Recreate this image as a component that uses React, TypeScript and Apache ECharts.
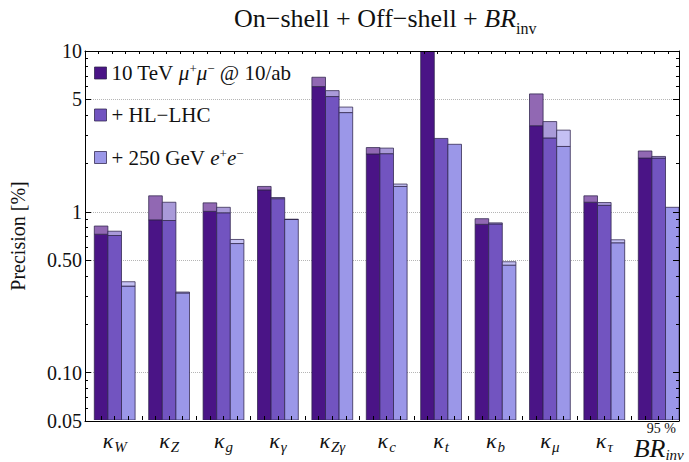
import React, { useEffect, useRef } from 'react';
import * as echarts from 'echarts';

// ---------- data ----------
const categories = ['κW', 'κZ', 'κg', 'κγ', 'κZγ', 'κc', 'κt', 'κb', 'κμ', 'κτ', 'BRinv'];
const kappaSubs = ['W', 'Z', 'g', 'γ', 'Zγ', 'c', 't', 'b', 'μ', 'τ', 'inv'];
const seriesNames = ['mu10', 'hllhc', 'ee250'];
// full height (lighter cap top) and base height (solid part) of each bar
const mu10Full = [0.81, 1.25, 1.13, 1.43, 6.86, 2.5, 12, 0.9, 5.4, 1.25, 2.38];
const mu10Base = [0.72, 0.885, 1.0, 1.36, 6.0, 2.28, 12, 0.83, 3.42, 1.14, 2.15];
const hlFull = [0.752, 1.14, 1.06, 1.22, 5.66, 2.48, 2.85, 0.848, 3.63, 1.135, 2.2];
const hlBase = [0.707, 0.877, 0.98, 1.2, 5.2, 2.29, 2.85, 0.835, 2.87, 1.09, 2.15];
const eeFull = [0.364, 0.314, 0.668, 0.893, 4.47, 1.48, 2.62, 0.485, 3.21, 0.665, 1.06];
const eeBase = [0.342, 0.31, 0.63, 0.89, 4.13, 1.43, 2.62, 0.462, 2.54, 0.637, 1.06];
const yTickValues = [0.05, 0.1, 0.5, 1, 5, 10];
const yTickLabels = ['0.05', '0.10', '0.50', '1', '5', '10'];
const yMinorValues = [0.06, 0.07, 0.08, 0.09, 0.2, 0.3, 0.4, 0.6, 0.7, 0.8, 0.9, 2, 3, 4, 6, 7, 8, 9];
const gridValues = [0.1, 0.5, 1, 5];

// ---------- style ----------
const FONT = 'Liberation Serif';
const mainColors = ['#4a1486', '#7254c0', '#9b97e8'];
const capColors = ['#9168b3', '#a99ad9', '#c4c0f3'];
const EDGE = 'rgba(45,35,75,0.75)';
const SLOTS_FRAME = 43.82; // frame width in bar-slot units
const SLOTS_BANDS = 44;    // category bands in bar-slot units
const bottomTickValues = Array.from({ length: 43 }, (_, i) => i + 1);

const fullArr = [mu10Full, hlFull, eeFull];
const baseArr = [mu10Base, hlBase, eeBase];

const legendText: Record<string, string> = {
  mu10: '{t|10 TeV }{i|μ}{sup|+}{i|μ}{sup|−}{t| @ 10/ab}',
  hllhc: '{t|+ HL−LHC}',
  ee250: '{t|+ 250 GeV }{i|e}{sup|+}{i|e}{sup|−}',
};

const makeRender = (k: number) => (params: any, api: any) => {
  const i = api.value(0);
  const base = api.value(1);
  const full = api.value(2);
  const band = api.size([1, 0])[0];
  const w = band / 4;
  const bottom = api.coord([i, 0.05]);
  const x = bottom[0] - band * 0.375 + k * w;
  const yb = api.coord([i, base])[1];
  const yf = api.coord([i, full])[1];
  const children: any[] = [
    {
      type: 'rect',
      shape: { x, y: yb, width: w, height: bottom[1] - yb },
      style: { fill: mainColors[k], stroke: EDGE, lineWidth: 1 },
    },
  ];
  if (full > base) {
    children.push({
      type: 'rect',
      shape: { x, y: yf, width: w, height: yb - yf },
      style: { fill: capColors[k], stroke: EDGE, lineWidth: 1 },
    });
  }
  return { type: 'group', children };
};

const logAxisBase = { type: 'log', logBase: 10, min: 0.05, max: 10 };

export default function App() {
  const ref = useRef<HTMLDivElement>(null);
  useEffect(() => {
    if (!ref.current) return;
    const chart = echarts.init(ref.current, undefined, { renderer: 'svg' });
    const option: any = {
      animation: false,
      backgroundColor: '#ffffff',
      textStyle: { fontFamily: FONT },
      title: {
        text: '{a|On−shell + Off−shell + }{b|BR}{c|inv}',
        left: 229,
        top: 0,
        textStyle: {
          fontWeight: 'normal',
          rich: {
            a: { fontFamily: FONT, fontWeight: 'normal', fontSize: 26, lineHeight: 28, verticalAlign: 'top', color: '#111' },
            b: { fontFamily: FONT, fontWeight: 'normal', fontStyle: 'italic', fontSize: 26, lineHeight: 28, verticalAlign: 'top', color: '#111' },
            c: { fontFamily: FONT, fontWeight: 'normal', fontSize: 16, lineHeight: 16, padding: [15, 0, 0, 0], verticalAlign: 'top', color: '#111' },
          },
        },
      },
      legend: {
        data: seriesNames,
        orient: 'vertical',
        left: 94,
        top: 62,
        padding: 0,
        itemGap: 21,
        icon: 'rect',
        itemWidth: 12,
        itemHeight: 12,
        itemStyle: { borderColor: EDGE, borderWidth: 1 },
        formatter: (name: string) => legendText[name],
        textStyle: {
          fontFamily: FONT,
          fontSize: 21,
          color: '#111',
          rich: {
            t: { fontFamily: FONT, fontSize: 21, lineHeight: 22, verticalAlign: 'middle', color: '#111' },
            i: { fontFamily: FONT, fontStyle: 'italic', fontSize: 21, lineHeight: 22, verticalAlign: 'middle', color: '#111' },
            sup: { fontFamily: FONT, fontSize: 13, lineHeight: 12, verticalAlign: 'top', color: '#111' },
          },
        },
      },
      grid: [
        { left: 83, right: 10, top: 51, bottom: 41, containLabel: false },
        { left: 87.5, right: 3.1, top: 51, bottom: 41, containLabel: false },
      ],
      xAxis: [
        {
          gridIndex: 0, type: 'value', position: 'top', min: 0, max: SLOTS_FRAME, interval: 1,
          axisLine: { show: true, lineStyle: { color: '#000', width: 1 } },
          axisTick: { show: true, inside: true, length: 3, lineStyle: { color: '#000' } },
          axisLabel: { show: false }, splitLine: { show: false }, z: 5,
        },
        {
          gridIndex: 0, type: 'value', position: 'bottom', min: 0, max: SLOTS_FRAME,
          axisLine: { show: true, lineStyle: { color: '#000', width: 1 } },
          axisTick: { show: false }, axisLabel: { show: false }, splitLine: { show: false }, z: 5,
        },
        {
          gridIndex: 1, type: 'category', data: categories, position: 'bottom',
          axisLine: { show: false }, axisTick: { show: false }, splitLine: { show: false },
          axisLabel: {
            show: true,
            interval: 0,
            margin: 1,
            formatter: (v: string, idx: number) =>
              idx === categories.length - 1
                ? '{sp| }{sup|95 %}\n{br|BR}{bsub|' + kappaSubs[idx] + '}'
                : '{k|κ}{s|' + kappaSubs[idx] + '}',
            rich: {
              k: { fontFamily: FONT, fontStyle: 'italic', fontSize: 22, lineHeight: 22, padding: [8, 0, 0, 0], verticalAlign: 'top', color: '#111' },
              s: { fontFamily: FONT, fontStyle: 'italic', fontSize: 15, lineHeight: 15, padding: [18, 0, 0, 1], verticalAlign: 'top', color: '#111' },
              sp: { fontFamily: FONT, fontSize: 13, lineHeight: 14, width: 13, align: 'left' },
              sup: { fontFamily: FONT, fontSize: 14, lineHeight: 14, align: 'left', color: '#111' },
              br: { fontFamily: FONT, fontStyle: 'italic', fontSize: 26, lineHeight: 26, verticalAlign: 'top', align: 'left', color: '#111' },
              bsub: { fontFamily: FONT, fontStyle: 'italic', fontSize: 15, lineHeight: 15, padding: [12, 0, 0, 0], verticalAlign: 'top', align: 'left', color: '#111' },
            },
          },
        },
        {
          gridIndex: 1, type: 'value', position: 'bottom', min: 0, max: SLOTS_BANDS,
          axisLine: { show: false },
          axisTick: { show: true, inside: true, length: 4, customValues: bottomTickValues, lineStyle: { color: '#000' } },
          axisLabel: { show: false }, splitLine: { show: false }, z: 5,
        },
      ],
      yAxis: [
        {
          ...logAxisBase, gridIndex: 0, position: 'left',
          axisLine: { show: true, lineStyle: { color: '#000', width: 1 } },
          axisTick: { show: true, inside: true, length: 6, customValues: yTickValues, lineStyle: { color: '#000' } },
          axisLabel: {
            show: true, customValues: yTickValues, margin: 3,
            fontFamily: FONT, fontSize: 20, color: '#111',
            formatter: (v: number) => {
              const j = yTickValues.findIndex((t) => Math.abs(t - v) < t * 1e-6);
              return j >= 0 ? yTickLabels[j] : '';
            },
          },
          splitLine: { show: false },
          name: 'Precision [%]', nameLocation: 'middle', nameGap: 57, nameRotate: 90,
          nameTextStyle: { fontFamily: FONT, fontSize: 20, color: '#111' },
          z: 5,
        },
        {
          ...logAxisBase, gridIndex: 0, position: 'left',
          axisLine: { show: false },
          axisTick: { show: true, inside: true, length: 3, customValues: yMinorValues, lineStyle: { color: '#000' } },
          axisLabel: { show: false }, splitLine: { show: false }, z: 5,
        },
        {
          ...logAxisBase, gridIndex: 0, position: 'right',
          axisLine: { show: true, lineStyle: { color: '#000', width: 1 } },
          axisTick: { show: true, inside: true, length: 6, customValues: yTickValues, lineStyle: { color: '#000' } },
          axisLabel: { show: false }, splitLine: { show: false }, z: 5,
        },
        {
          ...logAxisBase, gridIndex: 0, position: 'right',
          axisLine: { show: false },
          axisTick: { show: true, inside: true, length: 3, customValues: yMinorValues, lineStyle: { color: '#000' } },
          axisLabel: { show: false }, splitLine: { show: false }, z: 5,
        },
        { ...logAxisBase, gridIndex: 1, show: false },
      ],
      series: [
        {
          name: 'gridlines', type: 'line', xAxisIndex: 0, yAxisIndex: 0, data: [], z: 1, silent: true,
          markLine: {
            silent: true, symbol: ['none', 'none'], z: 1,
            label: { show: false },
            lineStyle: { type: 'dotted', color: '#b5b5b5', width: 1 },
            data: gridValues.map((v) => ({ yAxis: v })),
          },
        },
        ...seriesNames.map((name, k) => ({
          name,
          type: 'custom',
          xAxisIndex: 2,
          yAxisIndex: 4,
          clip: true,
          z: 3,
          itemStyle: { color: mainColors[k], borderColor: EDGE, borderWidth: 1 },
          encode: { x: 0, y: [1, 2] },
          renderItem: makeRender(k),
          data: categories.map((_, i) => [i, baseArr[k][i], fullArr[k][i]]),
        })),
      ],
    };
    chart.setOption(option);
    return () => chart.dispose();
  }, []);
  return (
    <div
      ref={ref}
      style={{ position: 'fixed', left: 0, top: 0, width: 689, height: 462, background: '#fff' }}
    />
  );
}
